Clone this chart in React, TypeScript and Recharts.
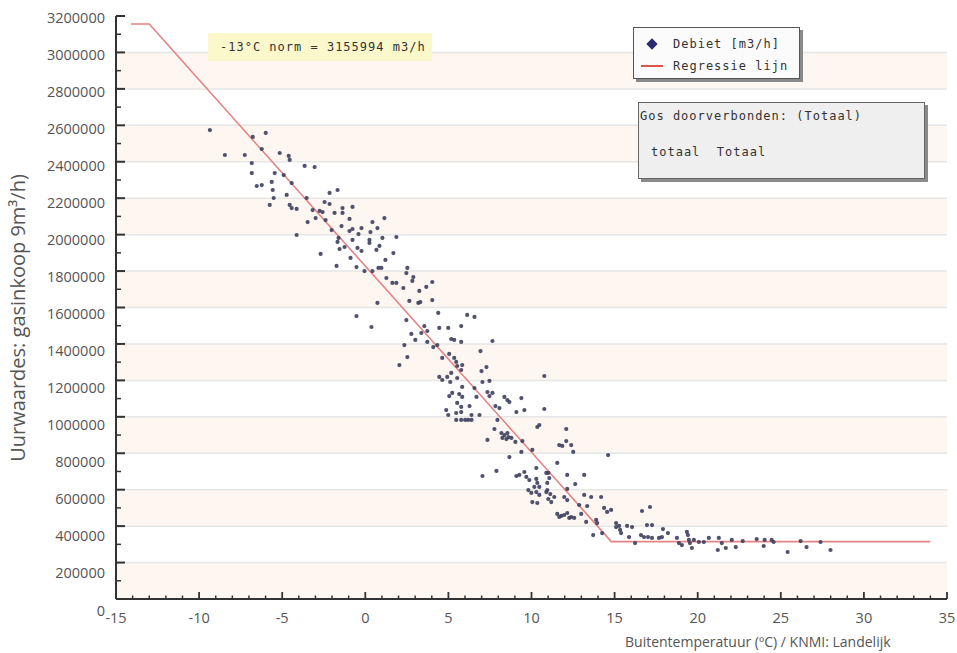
import React from 'react';
import { ScatterChart, Scatter, XAxis, YAxis, ReferenceArea, ReferenceLine } from 'recharts';

// ---- tick labels ----
const xMajorTicks = [-15, -10, -5, 0, 5, 10, 15, 20, 25, 30, 35];
const yMajorTicks = [0, 200000, 400000, 600000, 800000, 1000000, 1200000, 1400000, 1600000, 1800000, 2000000, 2200000, 2400000, 2600000, 2800000, 3000000, 3200000];
const xAllTicks = Array.from({ length: 51 }, (_, i) => -15 + i);
const yAllTicks = Array.from({ length: 33 }, (_, i) => i * 100000);
const pinkBandStarts = [0, 400000, 800000, 1200000, 1600000, 2000000, 2400000, 2800000];

// ---- regression line ----
const regressionTemps = [-14.1, -13, 14.8, 34];
const regressionValues = [3155994, 3155994, 315000, 315000];

// ---- measured points: [temperature, debiet m3/h] ----
const debietPoints: [number, number][] = [
  [-9.35, 2574000], [-8.45, 2437000], [-7.25, 2437000], [-6.77, 2536000], [-5.99, 2558000],
  [-6.23, 2470000], [-5.15, 2448000], [-4.61, 2432000], [-4.55, 2410000], [-6.83, 2393000],
  [-6.83, 2338000], [-5.45, 2338000], [-4.91, 2327000], [-6.53, 2267000], [-6.23, 2272000],
  [-5.63, 2289000], [-4.43, 2283000], [-5.57, 2245000], [-5.51, 2201000], [-4.73, 2218000],
  [-5.75, 2163000], [-4.55, 2163000], [-4.43, 2146000], [-4.13, 2141000], [-4.13, 1998000],
  [-3.65, 2377000], [-3.05, 2371000], [-3.53, 2201000], [-2.15, 2229000], [-1.67, 2245000],
  [-2.45, 2179000], [-2.15, 2168000], [-3.17, 2135000], [-2.75, 2130000], [-2.57, 2124000],
  [-1.85, 2119000], [-1.37, 2146000], [-0.77, 2152000], [-1.37, 2119000], [-3.47, 2069000],
  [-2.99, 2091000], [-2.39, 2080000], [-0.95, 2086000], [0.43, 2069000], [1.15, 2091000],
  [-2.03, 2025000], [-1.43, 2047000], [-0.95, 2020000], [-0.77, 2031000], [-0.23, 2036000],
  [0.73, 2036000], [-0.41, 2003000], [0.31, 2014000], [-1.61, 1982000], [-0.77, 1971000],
  [0.25, 1971000], [1.03, 1982000], [-1.67, 1960000], [-1.55, 1921000], [-1.25, 1932000],
  [-0.47, 1927000], [-0.23, 1910000], [0.25, 1954000], [0.85, 1938000], [-2.69, 1894000],
  [-0.89, 1872000], [0.67, 1916000], [1.21, 1861000], [-1.73, 1828000], [-0.53, 1822000],
  [-0.05, 1800000], [0.43, 1800000], [0.79, 1817000], [0.97, 1817000], [1.27, 1762000],
  [0.73, 1625000], [-0.53, 1553000], [0.37, 1493000],
  [1.87, 1987000], [1.69, 1899000], [1.63, 1735000], [1.87, 1735000], [2.53, 1817000],
  [2.47, 1789000], [2.89, 1767000], [2.83, 1746000], [4.03, 1740000], [2.29, 1707000],
  [3.25, 1691000], [3.67, 1713000], [2.65, 1636000], [3.19, 1625000], [3.31, 1630000],
  [4.03, 1641000], [4.39, 1570000], [2.47, 1531000], [3.55, 1498000], [3.73, 1471000],
  [4.45, 1488000], [4.99, 1488000], [5.77, 1498000], [6.13, 1559000], [6.57, 1548000],
  [2.77, 1455000], [3.37, 1460000], [3.01, 1422000], [3.73, 1411000], [4.33, 1394000],
  [4.09, 1383000], [5.17, 1427000], [5.35, 1422000], [5.77, 1411000], [2.35, 1394000],
  [2.53, 1328000], [2.05, 1284000], [4.63, 1323000], [5.05, 1345000], [5.35, 1323000],
  [5.47, 1301000], [5.53, 1279000], [5.83, 1284000], [5.77, 1257000], [4.45, 1219000],
  [4.63, 1202000], [4.93, 1219000], [5.17, 1241000], [5.11, 1191000], [5.53, 1213000],
  [5.83, 1164000], [5.23, 1131000], [5.65, 1125000], [5.83, 1109000], [5.05, 1114000],
  [5.53, 1076000], [5.77, 1054000], [4.87, 1037000], [4.99, 1010000], [5.47, 1021000],
  [5.77, 1026000], [5.47, 983000], [5.77, 983000], [6.01, 983000], [6.19, 983000],
  [7.65, 1416000], [6.93, 1361000], [6.99, 1251000], [7.29, 1273000], [7.05, 1191000],
  [7.47, 1197000], [10.77, 1224000], [6.57, 1158000], [6.69, 1109000], [7.35, 1136000],
  [7.65, 1131000], [7.47, 1114000], [8.37, 1109000], [8.55, 1092000], [8.67, 1081000],
  [9.39, 1103000], [6.27, 1059000], [6.39, 1010000], [6.39, 983000], [7.83, 1059000],
  [8.07, 1048000], [9.09, 1026000], [9.57, 1037000], [10.77, 1043000], [6.87, 1010000],
  [7.95, 983000], [10.35, 944000], [10.47, 955000], [7.77, 933000], [8.19, 911000],
  [8.37, 900000], [8.55, 911000], [8.61, 889000], [8.79, 884000], [8.25, 884000],
  [8.49, 878000], [7.35, 873000], [9.03, 862000], [9.45, 867000], [9.39, 807000],
  [10.05, 818000], [8.67, 779000], [10.29, 719000], [7.05, 675000], [7.89, 703000],
  [9.09, 675000], [9.27, 681000], [9.57, 697000], [9.69, 670000], [9.87, 653000],
  [10.29, 659000], [10.35, 637000], [10.17, 615000], [10.47, 615000], [10.89, 692000],
  [10.95, 637000], [9.81, 598000], [9.99, 582000], [10.29, 587000], [10.47, 571000],
  [10.89, 587000], [10.05, 532000], [10.35, 527000],
  [12.09, 933000], [12.09, 867000], [11.67, 845000], [11.85, 840000], [12.39, 845000],
  [12.51, 807000], [14.61, 790000], [11.55, 747000], [11.01, 692000], [11.07, 664000],
  [12.15, 681000], [13.17, 681000], [12.63, 631000], [10.95, 598000], [11.13, 576000],
  [11.37, 560000], [11.19, 532000], [11.01, 549000], [12.15, 604000], [11.97, 560000],
  [12.15, 543000], [13.17, 571000], [13.59, 560000], [14.19, 560000], [12.87, 516000],
  [13.35, 510000], [11.55, 467000], [11.79, 456000], [11.97, 461000], [12.15, 472000],
  [11.67, 450000], [12.27, 445000], [12.39, 450000], [12.57, 445000], [12.99, 467000],
  [14.37, 500000], [14.55, 478000], [14.79, 489000], [13.29, 423000], [13.89, 434000],
  [13.95, 417000], [15.09, 417000], [15.09, 395000], [15.27, 401000], [15.33, 379000],
  [15.39, 362000], [15.75, 401000], [16.05, 395000], [13.71, 351000], [14.25, 362000],
  [15.87, 340000], [16.59, 351000], [16.23, 307000],
  [16.65, 483000], [17.13, 505000], [16.95, 406000], [17.25, 406000], [17.91, 384000],
  [18.21, 362000], [16.77, 340000], [17.01, 340000], [17.25, 335000], [17.67, 335000],
  [17.85, 340000], [18.75, 335000], [18.87, 307000], [19.05, 296000], [19.35, 368000],
  [19.41, 351000], [19.47, 324000], [19.53, 307000], [19.65, 280000], [19.77, 324000],
  [20.07, 313000], [20.37, 313000], [20.67, 335000], [21.27, 335000], [21.45, 307000],
  [21.21, 269000], [21.69, 280000], [22.05, 324000], [22.29, 285000], [22.71, 318000],
  [23.55, 329000], [24.03, 324000], [23.97, 291000], [24.45, 324000], [24.57, 313000],
  [25.41, 258000], [26.19, 318000], [26.55, 285000], [27.39, 313000], [27.99, 269000],
];

const debietData = debietPoints.map(([t, v]) => ({ t, v }));
const regressionData = regressionTemps.map((t, i) => ({ t, v: regressionValues[i] }));

const FONT = "'Open Sans', sans-serif";
const MONO = "'DejaVu Sans Mono', monospace";

const YTick = (props: any) => {
  const { x, y, payload } = props;
  const v = payload.value as number;
  const major = v % 200000 === 0;
  const shift = 1 + 10 * (1 - v / 3200000);
  return (
    <g>
      <line x1={x} x2={x + (major ? 9 : 5)} y1={y} y2={y} stroke="#333" strokeWidth={major ? 2 : 1.5} />
      {major && (
        <text x={x - 11} y={y + shift} textAnchor="end" dominantBaseline="central" fontSize={14.5} fill="#555" fontFamily={FONT}>
          {v}
        </text>
      )}
    </g>
  );
};

const XTick = (props: any) => {
  const { x, y, payload } = props;
  const v = payload.value as number;
  const major = v % 5 === 0;
  return (
    <g>
      <line x1={x} x2={x} y1={y} y2={y - (major ? 7 : 3.5)} stroke="#333" strokeWidth={major ? 1.8 : 1.5} />
      {major && xMajorTicks.includes(v) && (
        <text x={x} y={y + 18} textAnchor="middle" dominantBaseline="central" fontSize={14.5} fill="#555" fontFamily={FONT}>
          {v}
        </text>
      )}
    </g>
  );
};

const Dot = (props: any) => {
  const { cx, cy } = props;
  if (cx == null || cy == null) return <g />;
  return <circle cx={cx} cy={cy} r={2.1} fill="#3d3f5e" fillOpacity={0.9} />;
};

const boxShadow = '3px 3px 0px #8a8a8a';

export default function App() {
  return (
    <div style={{ position: 'absolute', left: 0, top: 0, width: 957, height: 653, background: '#fff' }}>
      <ScatterChart width={957} height={653} margin={{ top: 16, right: 10, left: 0, bottom: 24 }}>
        {pinkBandStarts.map((b) => (
          <ReferenceArea key={'band' + b} y1={b} y2={b + 200000} fill="#fdf6f1" fillOpacity={1} stroke="none" ifOverflow="visible" />
        ))}
        {yMajorTicks.slice(1, -1).map((v) => (
          <ReferenceLine key={'gl' + v} y={v} stroke="#e6e6e6" strokeWidth={1.5} />
        ))}
        <XAxis
          type="number"
          dataKey="t"
          domain={[-15, 35]}
          ticks={xAllTicks}
          interval={0}
          tick={<XTick />}
          tickLine={false}
          tickSize={0}
          tickMargin={0}
          axisLine={{ stroke: '#333', strokeWidth: 2 }}
          height={30}
          allowDataOverflow
        />
        <YAxis
          type="number"
          dataKey="v"
          domain={[0, 3200000]}
          ticks={yAllTicks}
          interval={0}
          tick={<YTick />}
          tickLine={false}
          tickSize={0}
          tickMargin={0}
          axisLine={{ stroke: '#333', strokeWidth: 2 }}
          width={116}
          allowDataOverflow
        />
        <Scatter
          data={regressionData}
          line={{ stroke: '#e58383', strokeWidth: 1.6 }}
          lineType="joint"
          shape={() => <g />}
          isAnimationActive={false}
        />
        <Scatter data={debietData} shape={<Dot />} isAnimationActive={false} />
      </ScatterChart>

      {/* norm annotation */}
      <div
        style={{
          position: 'absolute', left: 208, top: 33, width: 224, height: 28, background: '#fbf8cc',
          fontFamily: MONO, fontSize: 12, letterSpacing: 1, color: '#333', lineHeight: '28px', paddingLeft: 12, boxSizing: 'border-box',
          whiteSpace: 'nowrap',
        }}
      >
        -13°C norm = 3155994 m3/h
      </div>

      {/* legend */}
      <div
        style={{
          position: 'absolute', left: 633, top: 27, width: 167, height: 52, background: '#fbfbfb',
          border: '1px solid #555', boxShadow, boxSizing: 'border-box', fontFamily: MONO, fontSize: 12, letterSpacing: 1, color: '#333',
        }}
      >
        <div style={{ position: 'absolute', left: 14, top: 12, width: 8, height: 8, background: '#2b2b70', transform: 'rotate(45deg)' }} />
        <div style={{ position: 'absolute', left: 39, top: 8, whiteSpace: 'nowrap', lineHeight: '16px' }}>Debiet [m3/h]</div>
        <div style={{ position: 'absolute', left: 7, top: 37, width: 22, height: 2, background: '#d9534f' }} />
        <div style={{ position: 'absolute', left: 39, top: 30, whiteSpace: 'nowrap', lineHeight: '16px' }}>Regressie lijn</div>
      </div>

      {/* info box */}
      <div
        style={{
          position: 'absolute', left: 638, top: 102, width: 287, height: 77, background: '#efefef',
          border: '1px solid #666', boxShadow, boxSizing: 'border-box', fontFamily: MONO, fontSize: 12, letterSpacing: 1, color: '#333',
        }}
      >
        <div style={{ position: 'absolute', left: 1, top: 5, whiteSpace: 'pre', lineHeight: '16px' }}>Gos doorverbonden: (Totaal)</div>
        <div style={{ position: 'absolute', left: 12, top: 41, whiteSpace: 'pre', lineHeight: '16px' }}>totaal  Totaal</div>
      </div>

      {/* axis titles */}
      <div
        style={{
          position: 'absolute', left: 18, top: 318, transform: 'translate(-50%, -50%) rotate(-90deg)',
          whiteSpace: 'nowrap', fontFamily: FONT, fontSize: 20, color: '#555', lineHeight: '24px',
        }}
      >
        Uurwaardes: gasinkoop 9m³/h)
      </div>
      <div
        style={{
          position: 'absolute', left: 625, top: 633, whiteSpace: 'nowrap', fontFamily: FONT, fontSize: 14, color: '#555', lineHeight: '18px',
        }}
      >
        Buitentemperatuur (ºC) / KNMI: Landelijk
      </div>
    </div>
  );
}
